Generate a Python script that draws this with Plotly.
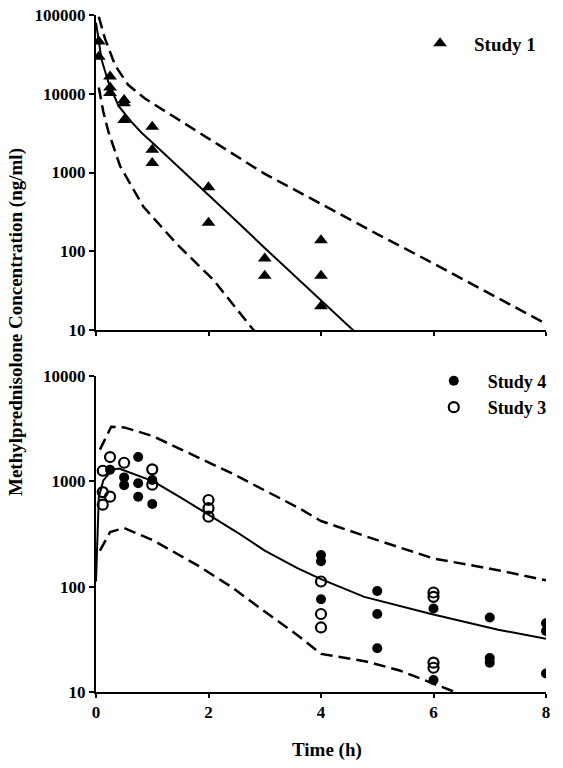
import plotly.graph_objects as go

# ---------------- Top panel (Study 1) ----------------
s1_time = [0.05, 0.05, 0.25, 0.25, 0.25, 0.5, 0.5, 0.5, 1, 1, 1, 2, 2, 3, 3, 4, 4, 4]
s1_conc = [46000, 29600, 16600, 12000, 10200, 8300, 7600, 4650, 3800, 1940, 1320,
           650, 230, 81, 49, 138, 49, 20]

top_med_t = [0, 0.04, 0.10, 0.22, 0.4, 0.63, 0.81, 1.0, 1.5, 2.0, 2.5, 3.0, 3.5, 4.0, 4.6]
top_med_c = [80000, 50000, 27000, 14000, 7000, 4400, 3200, 2400, 1120, 520, 240, 110, 51, 24, 9.5]

top_hi_t = [0.05, 0.16, 0.34, 0.57, 0.87, 1.3, 2.0, 3.0, 4.0, 5.0, 6.0, 7.0, 8.0]
top_hi_c = [95000, 50000, 23000, 13000, 8700, 5600, 2700, 960, 400, 165, 70, 29, 12]

top_lo_t = [0.05, 0.13, 0.22, 0.43, 0.84, 1.43, 2.09, 2.8, 3.0]
top_lo_c = [12000, 5900, 3300, 1200, 370, 125, 43, 10, 7.5]

# ---------------- Bottom panel (Study 3 & 4) ----------------
s3_time = [0.12, 0.12, 0.12, 0.25, 0.25, 0.5, 1, 1, 2, 2, 2, 4, 4, 4, 6, 6, 6, 6]
s3_conc = [1260, 790, 600, 1700, 715, 1500, 1300, 930, 665, 556, 462, 112, 55, 41, 88, 80, 19, 17]

s4_time = [0.25, 0.5, 0.5, 0.75, 0.75, 0.75, 1, 1, 4, 4, 4, 5, 5, 5, 6, 6, 7, 7, 7, 8, 8, 8]
s4_conc = [1290, 1090, 920, 1700, 960, 715, 1030, 610, 200, 174, 76, 91, 55, 26, 62, 13,
           51, 21, 19, 45, 38, 15]

bot_med_t = [0, 0.05, 0.13, 0.29, 0.41, 1.02, 1.53, 2.0, 2.5, 3.0, 3.58, 4.0, 4.77, 5.96, 7.15, 8.0]
bot_med_c = [112, 710, 1020, 1290, 1320, 1000, 690, 480, 330, 220, 150, 118, 80, 55, 39, 32]

bot_hi_t = [0.07, 0.27, 0.5, 1.0, 1.8, 2.4, 3.0, 3.6, 4.0, 4.8, 6.0, 7.1, 8.0]
bot_hi_c = [2000, 3300, 3250, 2700, 1700, 1200, 820, 560, 420, 300, 185, 145, 115]

bot_lo_t = [0.07, 0.25, 0.5, 1.0, 1.8, 2.4, 3.0, 3.6, 4.0, 4.8, 5.4, 6.0, 6.4, 6.6]
bot_lo_c = [220, 330, 360, 278, 160, 100, 58, 34, 23, 19.5, 16, 12, 10, 9]

x_ticks = [0, 2, 4, 6, 8]
top_y_ticks = [10, 100, 1000, 10000, 100000]
bot_y_ticks = [10, 100, 1000, 10000]

FONT = "Liberation Serif"
DASH = "12px,6px"

fig = go.Figure()

def line(x, y, xa, ya, dash=None, width=2, shape="linear"):
    fig.add_trace(go.Scatter(x=x, y=y, mode="lines", xaxis=xa, yaxis=ya,
                             line=dict(color="black", width=width, dash=dash, shape=shape),
                             showlegend=False, hoverinfo="skip"))

line(top_hi_t, top_hi_c, "x", "y", DASH, 2.5)
line(top_lo_t, top_lo_c, "x", "y", DASH, 2.5)
line(top_med_t, top_med_c, "x", "y", None, 2)
fig.add_trace(go.Scatter(x=s1_time, y=s1_conc, mode="markers", name="Study 1",
                         xaxis="x", yaxis="y", legend="legend",
                         marker=dict(symbol="triangle-up", size=12, color="black")))

line(bot_hi_t, bot_hi_c, "x2", "y2", DASH, 2.5)
line(bot_lo_t, bot_lo_c, "x2", "y2", DASH, 2.5)
line(bot_med_t, bot_med_c, "x2", "y2", None, 2)
fig.add_trace(go.Scatter(x=s4_time, y=s4_conc, mode="markers", name="Study 4",
                         xaxis="x2", yaxis="y2", legend="legend2",
                         marker=dict(symbol="circle", size=10, color="black")))
fig.add_trace(go.Scatter(x=s3_time, y=s3_conc, mode="markers", name="Study 3",
                         xaxis="x2", yaxis="y2", legend="legend2",
                         marker=dict(symbol="circle-open", size=10, color="black",
                                     line=dict(width=2.2, color="black"))))

tickfont = dict(family=FONT, size=17, color="black", weight="bold")
axis_common = dict(showline=True, linecolor="black", linewidth=2, showgrid=False,
                   zeroline=False, ticks="outside", tickcolor="black", tickwidth=1.5,
                   tickfont=tickfont, automargin=False)

fig.update_layout(
    width=563, height=768,
    margin=dict(l=96, r=17, t=15, b=76, autoexpand=False),
    paper_bgcolor="white", plot_bgcolor="white",
    font=dict(family=FONT, color="black"),
    xaxis=dict(domain=[0, 1], anchor="y", range=[0, 8], tickvals=x_ticks,
               showticklabels=False, ticklen=4, **axis_common),
    yaxis=dict(domain=[0.5347, 1], anchor="x", type="log", range=[1, 5],
               tickvals=top_y_ticks, ticktext=[str(v) for v in top_y_ticks],
               ticklen=5, **axis_common),
    xaxis2=dict(domain=[0, 1], anchor="y2", range=[0, 8], tickvals=x_ticks,
                ticktext=[str(v) for v in x_ticks], ticklen=4, **axis_common),
    yaxis2=dict(domain=[0, 0.4668], anchor="x2", type="log", range=[1, 4],
                tickvals=bot_y_ticks, ticktext=[str(v) for v in bot_y_ticks],
                ticklen=5, **axis_common),
    legend=dict(x=0.689, y=0.986, xanchor="left", yanchor="top", bgcolor="rgba(0,0,0,0)",
                itemwidth=58, font=dict(family=FONT, size=19, color="black", weight="bold")),
    legend2=dict(x=0.7195, y=0.4866, xanchor="left", yanchor="top", bgcolor="rgba(0,0,0,0)",
                 itemwidth=58, tracegroupgap=0,
                 font=dict(family=FONT, size=18, color="black", weight="bold")),
    annotations=[
        dict(text="Methylprednisolone Concentration (ng/ml)", textangle=-90,
             xref="paper", yref="paper", x=(16 - 96) / 450, y=(692 - 322) / 677,
             showarrow=False, xanchor="center", yanchor="middle",
             font=dict(family=FONT, size=19, color="black", weight="bold")),
        dict(text="Time (h)", xref="paper", yref="paper",
             x=(326.5 - 96) / 450, y=(692 - 750) / 677, showarrow=False,
             xanchor="center", yanchor="middle",
             font=dict(family=FONT, size=19, color="black", weight="bold")),
    ],
)

fig.write_html("out.html", config={"displayModeBar": False},
               post_script="document.body.style.margin='0';document.body.style.overflow='hidden';")
